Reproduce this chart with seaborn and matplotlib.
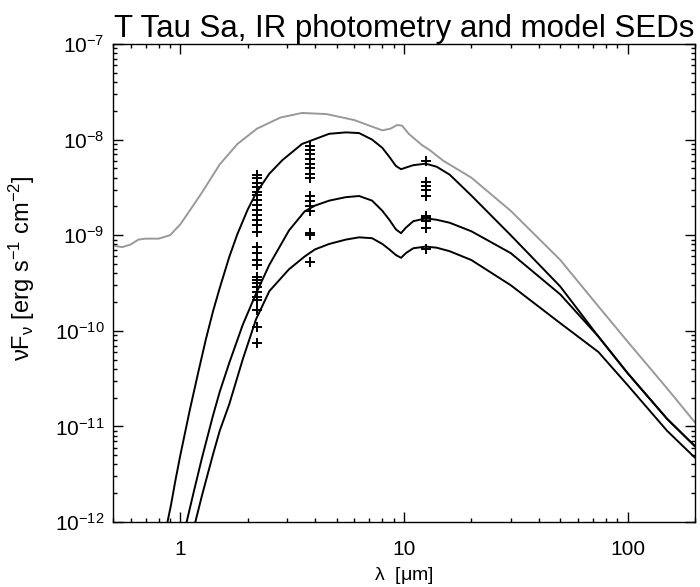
import numpy as np
import pandas as pd
import matplotlib
matplotlib.use("Agg")
import matplotlib.pyplot as plt
import matplotlib.ticker as mticker
import seaborn as sns

# ---- data ----
lam_gray = [0.5, 0.55, 0.6, 0.65, 0.7, 0.8, 0.9, 1.0, 1.1, 1.25, 1.5, 1.8, 2.2, 2.8, 3.5, 4.5, 6, 7, 8, 8.7, 9.3, 9.8, 10.5, 12, 13, 15, 20, 30, 50, 74, 100, 150, 200]
f_gray = [7.8e-10, 7.5e-10, 8.0e-10, 9.0e-10, 9.2e-10, 9.2e-10, 1.0e-9, 1.3e-9, 1.8e-9, 2.8e-9, 5.5e-9, 9e-9, 1.3e-8, 1.7e-8, 1.9e-8, 1.85e-8, 1.6e-8, 1.4e-8, 1.25e-8, 1.3e-8, 1.42e-8, 1.4e-8, 1.15e-8, 8.8e-9, 7.8e-9, 6e-9, 4e-9, 1.8e-9, 5.5e-10, 1.8e-10, 7.7e-11, 2.5e-11, 1.1e-11]

lam_m1 = [0.876, 0.908, 0.95, 1.0, 1.1, 1.2, 1.3, 1.4, 1.5, 1.654, 1.8, 2.0, 2.18, 2.5, 2.86, 3.5, 4.63, 5.5, 6.3, 7.2, 8.0, 8.6, 9.2, 9.7, 10.2, 11, 12.5, 14, 16, 20, 30, 50, 74, 100, 150, 200]
f_m1 = [1e-12, 1.5e-12, 2.7e-12, 5e-12, 1.45e-11, 3.6e-11, 8.1e-11, 1.6e-10, 2.8e-10, 5.9e-10, 1.03e-9, 1.85e-9, 2.75e-9, 4.4e-9, 6.1e-9, 9.0e-9, 1.15e-8, 1.19e-8, 1.17e-8, 1.0e-8, 8.2e-9, 6.6e-9, 5.3e-9, 4.9e-9, 5.1e-9, 5.4e-9, 5.6e-9, 5.2e-9, 4.3e-9, 2.6e-9, 1.0e-9, 2.9e-10, 8.7e-11, 3.6e-11, 1.2e-11, 6.2e-12]

lam_m2 = [1.067, 1.15, 1.25, 1.4, 1.5, 1.654, 1.9, 2.18, 2.5, 3.06, 3.6, 4.0, 4.63, 5.5, 6.3, 7.2, 8.0, 8.6, 9.2, 9.7, 10.2, 11, 12.5, 14, 16, 20, 30, 50, 74, 100, 150, 200]
f_m2 = [1e-12, 2.1e-12, 4.7e-12, 1.3e-11, 2.3e-11, 4.6e-11, 1.15e-10, 2.45e-10, 4.9e-10, 1.12e-9, 1.78e-9, 2.04e-9, 2.3e-9, 2.5e-9, 2.57e-9, 2.3e-9, 1.8e-9, 1.45e-9, 1.15e-9, 1.05e-9, 1.2e-9, 1.4e-9, 1.5e-9, 1.45e-9, 1.35e-9, 1.1e-9, 6.5e-10, 2.4e-10, 8.7e-11, 3.6e-11, 1.2e-11, 6.2e-12]

lam_m3 = [1.167, 1.25, 1.4, 1.5, 1.654, 1.9, 2.18, 2.5, 3.06, 3.6, 4.0, 4.63, 5.5, 6.3, 7.2, 8.0, 8.6, 9.2, 9.7, 10.2, 11, 12.5, 14, 16, 20, 30, 50, 74, 100, 150, 200]
f_m3 = [1e-12, 1.9e-12, 5.1e-12, 9e-12, 1.7e-11, 5e-11, 1.32e-10, 2.6e-10, 4.4e-10, 6.0e-10, 7.1e-10, 8.1e-10, 9.0e-10, 9.5e-10, 9.3e-10, 8.1e-10, 7.1e-10, 6.2e-10, 5.8e-10, 6.5e-10, 7.3e-10, 7.6e-10, 7.4e-10, 6.8e-10, 5.5e-10, 3e-10, 1.2e-10, 6e-11, 2.7e-11, 9e-12, 4.7e-12]

flux_K = [4.27e-9, 3.94e-9, 3.49e-9, 3.22e-9, 2.85e-9, 2.63e-9, 2.33e-9, 2.07e-9, 1.84e-9, 1.63e-9, 1.44e-9, 1.28e-9, 1.09e-9,
          7.6e-10, 6.5e-10, 5.5e-10, 4.9e-10, 3.68e-10, 3.4e-10, 3.13e-10, 2.89e-10, 2.56e-10, 2.27e-10, 2.1e-10,
          1.65e-10, 1.1e-10, 7.4e-11]
flux_L = [8.5e-9, 7.8e-9, 7.0e-9, 6.3e-9, 5.6e-9, 5.0e-9, 4.4e-9, 4.0e-9, 2.6e-9, 2.3e-9, 2.0e-9, 1.8e-9, 1.05e-9, 1.0e-9, 5.3e-10]
flux_N = [6.0e-9, 3.6e-9, 3.3e-9, 3.0e-9, 2.6e-9, 1.6e-9, 1.5e-9, 1.4e-9, 1.2e-9, 7.2e-10]
lam_K, lam_L, lam_N = 2.2, 3.8, 12.5

x_major = [1, 10, 100]
x_minor = [0.5, 0.6, 0.7, 0.8, 0.9, 2, 3, 4, 5, 6, 7, 8, 9, 20, 30, 40, 50, 60, 70, 80, 90, 200]
y_major = [1e-12, 1e-11, 1e-10, 1e-9, 1e-8, 1e-7]
title = "T Tau Sa, IR photometry and model SEDs"
xlabel = r"$\lambda$  [$\mu$m]"
ylabel = r"$\nu$F$_\nu$ [erg s$^{-1}$ cm$^{-2}$]"

# ---- frames ----
models = pd.concat([
    pd.DataFrame({"lam": lam_m1, "flux": f_m1, "model": "m1"}),
    pd.DataFrame({"lam": lam_m2, "flux": f_m2, "model": "m2"}),
    pd.DataFrame({"lam": lam_m3, "flux": f_m3, "model": "m3"}),
])
gray = pd.DataFrame({"lam": lam_gray, "flux": f_gray})
phot = pd.concat([
    pd.DataFrame({"lam": lam_K, "flux": flux_K}),
    pd.DataFrame({"lam": lam_L, "flux": flux_L}),
    pd.DataFrame({"lam": lam_N, "flux": flux_N}),
])

sns.set_style("ticks")
plt.rcParams["font.family"] = ["Liberation Sans", "DejaVu Sans"]
plt.rcParams["mathtext.fontset"] = "custom"
plt.rcParams["mathtext.rm"] = "Liberation Sans"
plt.rcParams["mathtext.it"] = "Liberation Sans:italic"
plt.rcParams["mathtext.default"] = "regular"

fig = plt.figure(figsize=(7.0, 5.87), dpi=100)
ax = fig.add_axes([113/700, 1-522/587, (695-113)/700, (522-44)/587])
ax.set_xscale("log")
ax.set_yscale("log")

sns.lineplot(data=gray, x="lam", y="flux", color="#999999", lw=1.4, sort=False,
             estimator=None, ax=ax, legend=False)
sns.lineplot(data=models, x="lam", y="flux", units="model", color="black", lw=1.4,
             sort=False, estimator=None, ax=ax, legend=False)
sns.scatterplot(data=phot, x="lam", y="flux", marker="+", s=60, color="black",
                linewidth=1.4, ax=ax, legend=False, zorder=5)

ax.set_xlim(0.5, 200)
ax.set_ylim(1e-12, 1e-7)
ax.xaxis.set_major_locator(mticker.FixedLocator(x_major))
ax.xaxis.set_minor_locator(mticker.FixedLocator(x_minor))
ax.xaxis.set_major_formatter(mticker.FixedFormatter([f"{v:g}" for v in x_major]))
ax.xaxis.set_minor_formatter(mticker.NullFormatter())
ax.yaxis.set_major_locator(mticker.FixedLocator(y_major))
ax.yaxis.set_minor_locator(mticker.LogLocator(base=10, subs=np.arange(2, 10), numticks=10))
ax.yaxis.set_major_formatter(mticker.FixedFormatter([r"10$^{%d}$" % round(np.log10(v)) for v in y_major]))
ax.yaxis.set_minor_formatter(mticker.NullFormatter())
ax.xaxis.get_offset_text().set_visible(False)
ax.yaxis.get_offset_text().set_visible(False)

ax.tick_params(which="both", direction="in", top=True, right=True, width=1.0, color="black",
               labelcolor="black")
ax.tick_params(which="major", length=7.5, labelsize=15)
ax.tick_params(axis="x", which="major", pad=13)
ax.tick_params(axis="y", which="major", pad=6)
ax.tick_params(which="minor", length=3.2)
for s in ax.spines.values():
    s.set_linewidth(1.0)
    s.set_color("black")

ax.set_title(title, fontsize=22.5, pad=4, color="black")
ax.set_xlabel(xlabel, fontsize=14, color="black", va="center")
ax.xaxis.set_label_coords(0.5, (522 - 575) / 478)
ax.set_ylabel(ylabel, fontsize=17, color="black")
ax.yaxis.set_label_coords(-0.13, 0.531)

fig.savefig("out.png", dpi=100)
